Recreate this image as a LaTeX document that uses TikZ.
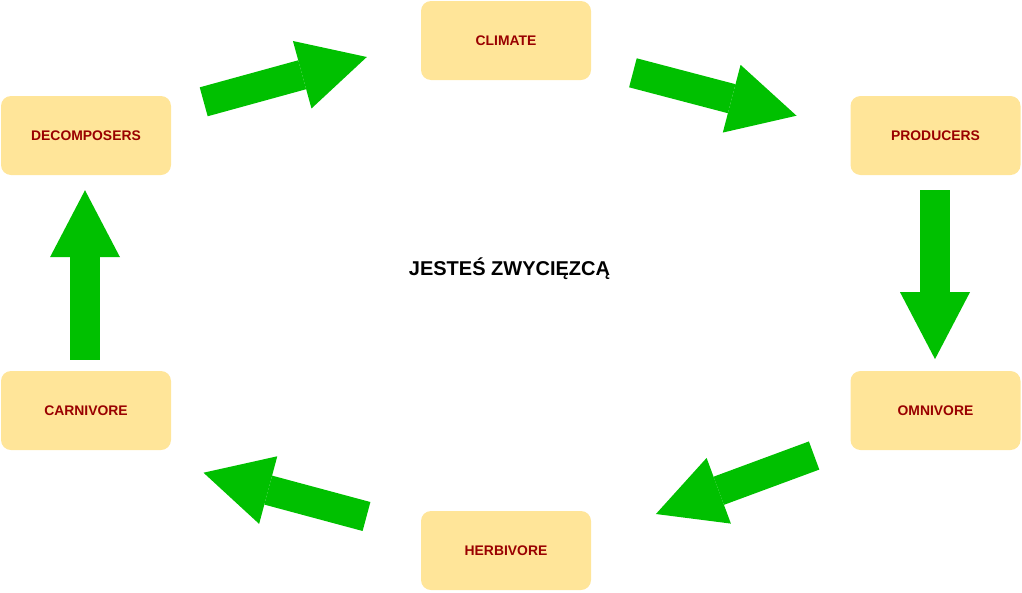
\documentclass[tikz,border=0pt]{standalone}
\usepackage{fontspec}
\setmainfont{Liberation Sans}
\usetikzlibrary{arrows.meta}

\begin{document}
\begin{tikzpicture}[x=1pt,y=-1pt]
  \definecolor{kGreen}{RGB}{0,192,0}
  \definecolor{kSand}{RGB}{255,229,153}
  \definecolor{kRed}{RGB}{153,0,0}

  \tikzset{
    stage/.style={fill=kSand,rounded corners=10pt,minimum width=170pt,
      minimum height=79pt,inner sep=0pt,text=kRed,
      font=\fontsize{13.9}{16}\selectfont\bfseries},
    flow/.style={draw=kGreen,line width=30pt,
      -{Triangle[length=67pt,width=70pt,line width=0pt,fill=kGreen]}}
  }

  \useasboundingbox (0,0) rectangle (1022,592);

  % stages
  \foreach \name/\x/\y/\txt in {
      clim/506/40.5/CLIMATE,
      dec/86/135.5/DECOMPOSERS,
      prod/935.5/135.5/PRODUCERS,
      carn/86/410.5/CARNIVORE,
      omni/935.5/410.5/OMNIVORE,
      herb/506/550.5/HERBIVORE
    }
  {
    \node[stage] (\name) at (\x,\y) {\txt};
  }

  % centre
  \node[font=\fontsize{20}{24}\selectfont\bfseries] (win) at (509.5,269) {JESTEŚ ZWYCIĘZCĄ};

  % cycle
  \draw[flow] ([shift={(32.5,6)}]dec.north east) -- ([shift={(-54,16.5)}]clim.west);
  \draw[flow] ([shift={(41.7,32.3)}]clim.east) -- ([shift={(-53.8,-19.8)}]prod.west);
  \draw[flow] ([shift={(-0.5,15)}]prod.south) -- ([shift={(-0.5,-11.7)}]omni.north);
  \draw[flow] ([shift={(-36.2,45)}]omni.west) -- ([shift={(64.7,-36.5)}]herb.east);
  \draw[flow] ([shift={(-54.3,-34)}]herb.west) -- ([shift={(32.3,62.2)}]carn.east);
  \draw[flow] ([shift={(-1,-11)}]carn.north) -- ([shift={(-1,15)}]dec.south);

\end{tikzpicture}
\end{document}
